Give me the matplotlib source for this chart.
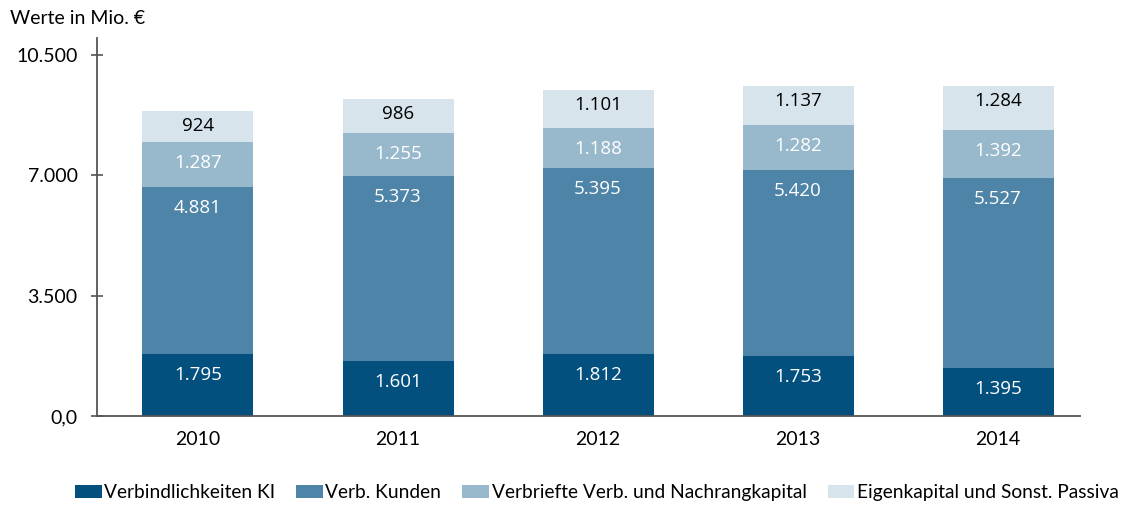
import matplotlib.pyplot as plt
import numpy as np

years = ["2010", "2011", "2012", "2013", "2014"]
verb_ki = [1795, 1601, 1812, 1753, 1395]
verb_kunden = [4881, 5373, 5395, 5420, 5527]
verbriefte = [1287, 1255, 1188, 1282, 1392]
eigenkapital = [924, 986, 1101, 1137, 1284]

series_names = [
    "Verbindlichkeiten KI",
    "Verb. Kunden",
    "Verbriefte Verb. und Nachrangkapital",
    "Eigenkapital und Sonst. Passiva",
]
y_ticks = [0, 3500, 7000, 10500]
y_tick_labels = ["0,0", "3.500", "7.000", "10.500"]

colors = ["#03507e", "#4e84a7", "#98b9cc", "#d7e4ec"]
label_colors = ["white", "white", "white", "black"]
label_offsets = [21, 21, 21, 15]  # pixels below segment top

plt.rcParams["font.family"] = ["Lato", "DejaVu Sans"]

fig = plt.figure(figsize=(11.41, 5.05), dpi=100)
ax = fig.add_axes([0.085, 0.1762, 0.8616, 0.7486])

x = np.arange(len(years))
bottom = np.zeros(len(years))
for values, name, color, lc, off in zip(
    [verb_ki, verb_kunden, verbriefte, eigenkapital],
    series_names, colors, label_colors, label_offsets,
):
    values = np.asarray(values, dtype=float)
    ax.bar(x, values, width=0.555, bottom=bottom, color=color, label=name)
    tops = bottom + values
    for xi, top, v in zip(x, tops, values):
        ax.annotate(
            f"{int(v):,}".replace(",", "."),
            xy=(xi, top), xytext=(0, -off * 72 / 100), textcoords="offset points",
            ha="center", va="center", color=lc, fontsize=13.5, family="Open Sans",
        )
    bottom = tops

ax.set_xlim(-0.505, 4.41)
ax.set_ylim(0, 11000)
ax.set_xticks(x, years)
ax.set_yticks(y_ticks, y_tick_labels)
for side in ("top", "right"):
    ax.spines[side].set_visible(False)
for side in ("left", "bottom"):
    ax.spines[side].set_color("#555555")
    ax.spines[side].set_linewidth(1.3)
ax.tick_params(axis="y", direction="inout", length=8, width=1.2, color="#555555",
               labelsize=14, pad=10)
ax.tick_params(axis="x", length=0, labelsize=14, pad=11)

fig.text(0.009, 0.963, "Werte in Mio. €", fontsize=14, ha="left", va="center")

fig.legend(loc="center", bbox_to_anchor=(0.523, 0.024), ncol=4, frameon=False,
           fontsize=13.8, handlelength=1.4, handleheight=0.65, handletextpad=0.12,
           columnspacing=1.1, borderaxespad=0, borderpad=0)

fig.savefig("out.png", dpi=100)
